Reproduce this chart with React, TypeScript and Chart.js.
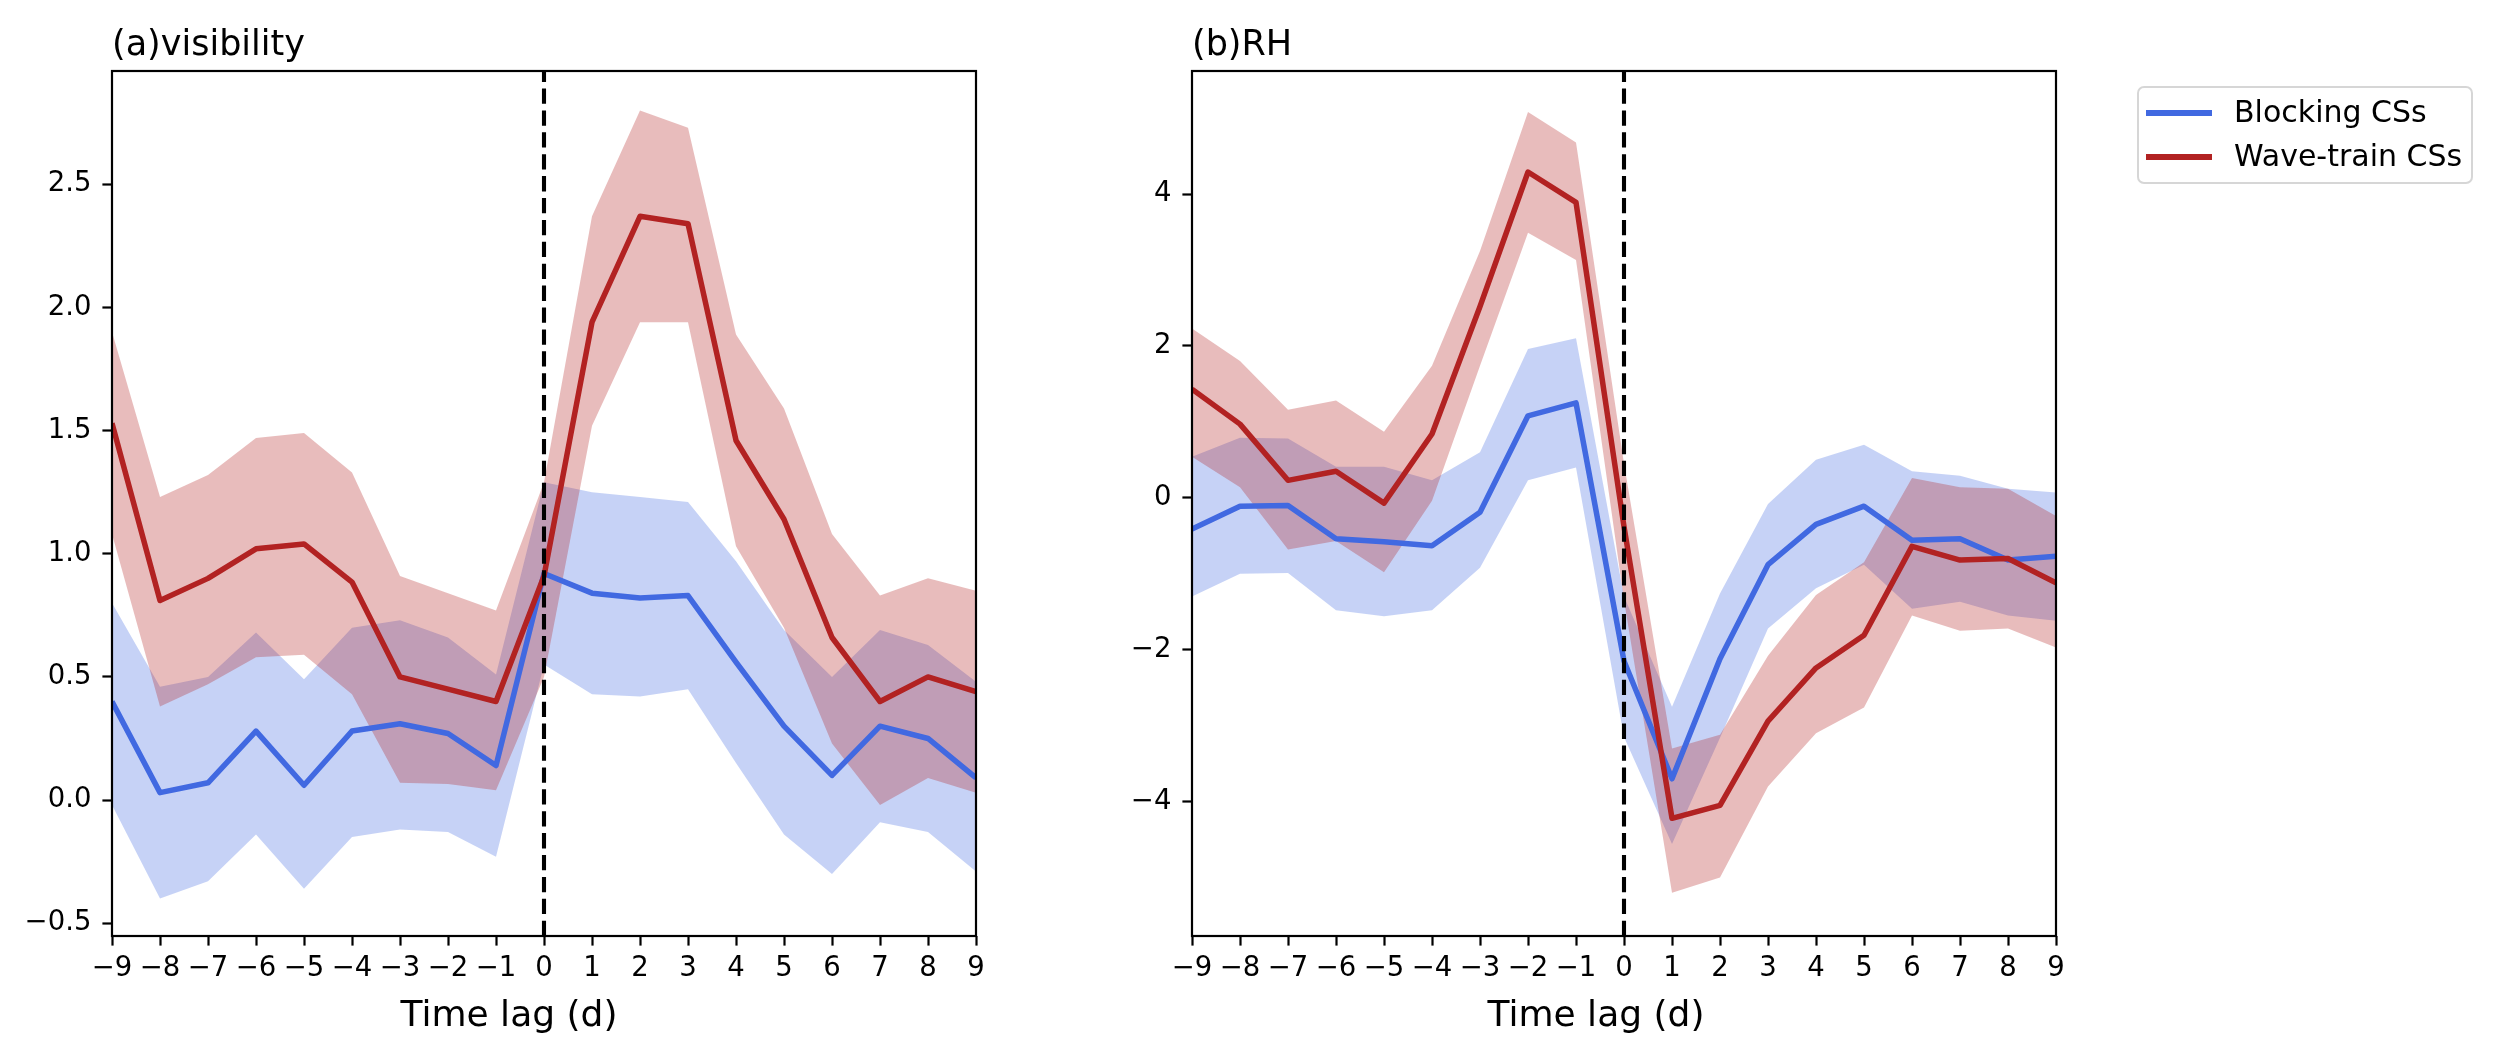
import { useEffect, useRef } from "react"
import { Chart, registerables } from "chart.js"

Chart.register(...registerables)
Chart.defaults.font.family = "'DejaVu Sans', sans-serif"

// shared x axis: time lag in days
const lags = [-9, -8, -7, -6, -5, -4, -3, -2, -1, 0, 1, 2, 3, 4, 5, 6, 7, 8, 9]

const seriesNames = ["Blocking CSs", "Wave-train CSs"]
const lineColors = ["#4169E1", "#B22222"]
const bandColors = ["rgba(65,105,225,0.3)", "rgba(178,34,34,0.3)"]

// (a) visibility
const visBlock = [0.40, 0.03, 0.07, 0.28, 0.06, 0.28, 0.31, 0.27, 0.14, 0.92, 0.84, 0.82, 0.83, 0.56, 0.30, 0.10, 0.30, 0.25, 0.09]
const visBlockHi = [0.80, 0.46, 0.50, 0.68, 0.49, 0.70, 0.73, 0.66, 0.51, 1.29, 1.25, 1.23, 1.21, 0.97, 0.69, 0.50, 0.69, 0.63, 0.48]
const visBlockLo = [-0.02, -0.40, -0.33, -0.14, -0.36, -0.15, -0.12, -0.13, -0.23, 0.55, 0.43, 0.42, 0.45, 0.15, -0.14, -0.30, -0.09, -0.13, -0.29]
const visWave = [1.53, 0.81, 0.90, 1.02, 1.04, 0.885, 0.50, 0.45, 0.40, 0.91, 1.94, 2.37, 2.34, 1.46, 1.14, 0.66, 0.40, 0.50, 0.44]
const visWaveHi = [1.90, 1.23, 1.32, 1.47, 1.49, 1.33, 0.91, 0.84, 0.77, 1.29, 2.37, 2.80, 2.73, 1.89, 1.59, 1.08, 0.83, 0.90, 0.85]
const visWaveLo = [1.08, 0.38, 0.47, 0.58, 0.59, 0.43, 0.07, 0.065, 0.04, 0.50, 1.52, 1.94, 1.94, 1.03, 0.70, 0.23, -0.02, 0.09, 0.03]
const visYTicks = [-0.5, 0, 0.5, 1.0, 1.5, 2.0, 2.5]

// (b) RH
const rhBlock = [-0.41, -0.11, -0.10, -0.54, -0.58, -0.63, -0.19, 1.08, 1.25, -2.15, -3.70, -2.12, -0.88, -0.35, -0.11, -0.56, -0.54, -0.82, -0.77]
const rhBlockHi = [0.54, 0.79, 0.78, 0.41, 0.41, 0.23, 0.60, 1.96, 2.10, -1.30, -2.75, -1.26, -0.08, 0.50, 0.70, 0.35, 0.29, 0.12, 0.07]
const rhBlockLo = [-1.30, -1.00, -0.99, -1.48, -1.56, -1.48, -0.92, 0.23, 0.40, -3.15, -4.56, -3.16, -1.72, -1.19, -0.88, -1.46, -1.37, -1.55, -1.62]
const rhWave = [1.43, 0.97, 0.23, 0.35, -0.07, 0.84, 2.52, 4.29, 3.89, -0.38, -4.22, -4.05, -2.94, -2.24, -1.81, -0.64, -0.82, -0.80, -1.12]
const rhWaveHi = [2.23, 1.80, 1.16, 1.28, 0.87, 1.74, 3.25, 5.08, 4.68, 0.45, -3.30, -3.12, -2.08, -1.28, -0.85, 0.26, 0.14, 0.12, -0.24]
const rhWaveLo = [0.54, 0.14, -0.68, -0.57, -0.98, -0.04, 1.74, 3.49, 3.13, -1.35, -5.20, -5.00, -3.80, -3.10, -2.76, -1.55, -1.75, -1.72, -1.97]
const rhYTicks = [-4, -2, 0, 2, 4]

const fmt = (v: number, digits: number) => (v < 0 ? "\u2212" : "") + Math.abs(v).toFixed(digits)
const toPoints = (ys: number[]) => ys.map((y, i) => ({ x: lags[i], y }))

// box around the axes + panel title + x label
const framePlugin = {
  id: "frame",
  afterDraw(chart: any, _args: any, opts: any) {
    const { ctx, chartArea: a } = chart
    ctx.save()
    ctx.strokeStyle = "#000"
    ctx.lineWidth = 2.2
    ctx.strokeRect(a.left, a.top, a.right - a.left, a.bottom - a.top)
    ctx.fillStyle = "#000"
    ctx.textBaseline = "alphabetic"
    ctx.textAlign = "left"
    ctx.font = "35px 'DejaVu Sans'"
    ctx.fillText(opts.title, a.left, a.top - 16)
    ctx.textAlign = "center"
    ctx.font = "36px 'DejaVu Sans'"
    ctx.fillText(opts.xLabel, (a.left + a.right) / 2 + opts.labelShift, a.bottom + 90)
    ctx.restore()
  },
}

interface PanelProps {
  title: string
  block: number[]
  blockHi: number[]
  blockLo: number[]
  wave: number[]
  waveHi: number[]
  waveLo: number[]
  yMin: number
  yMax: number
  yTicks: number[]
  digits: number
  yAxisWidth: number
  rightPad: number
  labelShift: number
}

function Panel(p: PanelProps) {
  const canvasRef = useRef<HTMLCanvasElement>(null)

  useEffect(() => {
    if (!canvasRef.current) return
    const tickFont = { size: 27.5 }
    const gridOpts = {
      drawOnChartArea: false,
      drawTicks: true,
      tickLength: 9.6,
      tickWidth: 2.2,
      tickColor: "#000",
    }
    const chart = new Chart(canvasRef.current, {
      type: "line",
      data: {
        datasets: [
          {
            label: "lag0",
            data: [{ x: 0, y: p.yMin }, { x: 0, y: p.yMax }],
            borderColor: "#000",
            borderWidth: 4.1,
            borderDash: [15.3, 6.6],
            pointRadius: 0,
            fill: false,
            order: 0,
          },
          {
            label: seriesNames[1],
            data: toPoints(p.wave),
            borderColor: lineColors[1],
            borderWidth: 5.5,
            borderJoinStyle: "round",
            pointRadius: 0,
            fill: false,
            order: 1,
          },
          {
            label: seriesNames[0],
            data: toPoints(p.block),
            borderColor: lineColors[0],
            borderWidth: 5.5,
            borderJoinStyle: "round",
            pointRadius: 0,
            fill: false,
            order: 2,
          },
          {
            label: "waveHi",
            data: toPoints(p.waveHi),
            borderColor: "rgba(0,0,0,0)",
            borderWidth: 0,
            backgroundColor: bandColors[1],
            pointRadius: 0,
            fill: "+1",
            order: 3,
          },
          {
            label: "waveLo",
            data: toPoints(p.waveLo),
            borderColor: "rgba(0,0,0,0)",
            borderWidth: 0,
            pointRadius: 0,
            fill: false,
            order: 4,
          },
          {
            label: "blockHi",
            data: toPoints(p.blockHi),
            borderColor: "rgba(0,0,0,0)",
            borderWidth: 0,
            backgroundColor: bandColors[0],
            pointRadius: 0,
            fill: "+1",
            order: 5,
          },
          {
            label: "blockLo",
            data: toPoints(p.blockLo),
            borderColor: "rgba(0,0,0,0)",
            borderWidth: 0,
            pointRadius: 0,
            fill: false,
            order: 6,
          },
        ],
      },
      options: {
        animation: false,
        responsive: true,
        maintainAspectRatio: false,
        layout: { padding: { left: 0, right: p.rightPad, top: 71, bottom: 0 } },
        plugins: {
          legend: { display: false },
          tooltip: { enabled: false },
          filler: { drawTime: "beforeDatasetsDraw" },
          frame: { title: p.title, xLabel: "Time lag (d)", labelShift: p.labelShift },
        } as any,
        scales: {
          x: {
            type: "linear",
            min: lags[0],
            max: lags[lags.length - 1],
            afterBuildTicks: (s: any) => {
              s.ticks = lags.map((v) => ({ value: v }))
            },
            afterFit: (s: any) => {
              s.height = 122
            },
            ticks: {
              color: "#000",
              font: tickFont,
              padding: 7,
              autoSkip: false,
              maxRotation: 0,
              callback: (v: any) => fmt(Number(v), 0),
            },
            grid: gridOpts,
            border: { display: false },
          },
          y: {
            min: p.yMin,
            max: p.yMax,
            afterBuildTicks: (s: any) => {
              s.ticks = p.yTicks.map((v) => ({ value: v }))
            },
            afterFit: (s: any) => {
              s.width = p.yAxisWidth
            },
            ticks: {
              color: "#000",
              font: tickFont,
              padding: 11,
              callback: (v: any) => fmt(Number(v), p.digits),
            },
            grid: gridOpts,
            border: { display: false },
          },
        },
      },
      plugins: [framePlugin],
    } as any)

    return () => {
      chart.destroy()
    }
  }, [p])

  return <canvas ref={canvasRef}></canvas>
}

const visProps: PanelProps = {
  title: "(a)visibility",
  block: visBlock,
  blockHi: visBlockHi,
  blockLo: visBlockLo,
  wave: visWave,
  waveHi: visWaveHi,
  waveLo: visWaveLo,
  yMin: -0.552,
  yMax: 2.96,
  yTicks: visYTicks,
  digits: 1,
  yAxisWidth: 112,
  rightPad: 64,
  labelShift: -35,
}

const rhProps: PanelProps = {
  title: "(b)RH",
  block: rhBlock,
  blockHi: rhBlockHi,
  blockLo: rhBlockLo,
  wave: rhWave,
  waveHi: rhWaveHi,
  waveLo: rhWaveLo,
  yMin: -5.77,
  yMax: 5.62,
  yTicks: rhYTicks,
  digits: 0,
  yAxisWidth: 152,
  rightPad: 84,
  labelShift: -28,
}

export default function App() {
  return (
    <div
      style={{
        position: "fixed",
        left: 0,
        top: 0,
        width: 2498,
        height: 1058,
        background: "#fff",
        fontFamily: "'DejaVu Sans', sans-serif",
      }}
    >
      <div style={{ position: "absolute", left: 0, top: 0, width: 1040, height: 1058 }}>
        <Panel {...visProps} />
      </div>
      <div style={{ position: "absolute", left: 1040, top: 0, width: 1100, height: 1058 }}>
        <Panel {...rhProps} />
      </div>
      <div
        style={{
          position: "absolute",
          left: 2137,
          top: 86,
          width: 336,
          height: 98,
          boxSizing: "border-box",
          border: "2.5px solid rgba(204,204,204,0.8)",
          borderRadius: 7,
          background: "rgba(255,255,255,0.8)",
        }}
      >
        {seriesNames.map((name, i) => (
          <div key={name}>
            <div
              style={{
                position: "absolute",
                left: 7,
                top: 22 + i * 44,
                width: 66,
                height: 5.5,
                background: lineColors[i],
              }}
            />
            <div
              style={{
                position: "absolute",
                left: 95,
                top: 6 + i * 44,
                fontSize: 30,
                lineHeight: "36px",
                color: "#000",
                whiteSpace: "nowrap",
              }}
            >
              {name}
            </div>
          </div>
        ))}
      </div>
    </div>
  )
}
